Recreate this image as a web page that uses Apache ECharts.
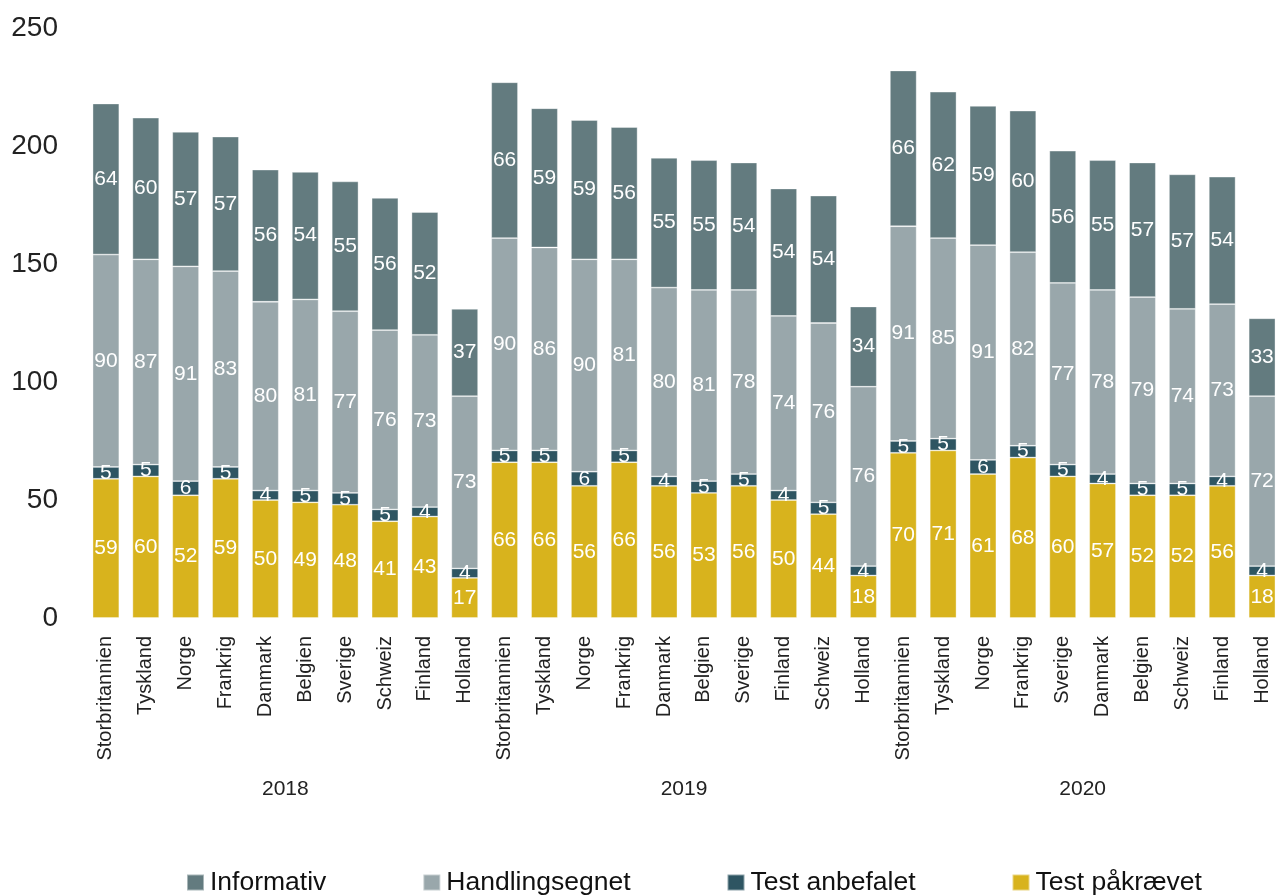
<!DOCTYPE html>
<html>
<head>
<meta charset="utf-8">
<script src="https://cdn.jsdelivr.net/npm/echarts@6/dist/echarts.min.js"></script>
<style>
  html, body { margin: 0; padding: 0; background: #fff; }
  #main { width: 1282px; height: 895px; }
</style>
</head>
<body>
<div id="main"></div>
<script>
var years = ['2018', '2019', '2020'];
var countries2018 = ['Storbritannien', 'Tyskland', 'Norge', 'Frankrig', 'Danmark', 'Belgien', 'Sverige', 'Schweiz', 'Finland', 'Holland'];
var countries2019 = ['Storbritannien', 'Tyskland', 'Norge', 'Frankrig', 'Danmark', 'Belgien', 'Sverige', 'Finland', 'Schweiz', 'Holland'];
var countries2020 = ['Storbritannien', 'Tyskland', 'Norge', 'Frankrig', 'Sverige', 'Danmark', 'Belgien', 'Schweiz', 'Finland', 'Holland'];

var testPaakraevet = [59, 60, 52, 59, 50, 49, 48, 41, 43, 17,
                      66, 66, 56, 66, 56, 53, 56, 50, 44, 18,
                      70, 71, 61, 68, 60, 57, 52, 52, 56, 18];
var testAnbefalet = [5, 5, 6, 5, 4, 5, 5, 5, 4, 4,
                     5, 5, 6, 5, 4, 5, 5, 4, 5, 4,
                     5, 5, 6, 5, 5, 4, 5, 5, 4, 4];
var handlingsegnet = [90, 87, 91, 83, 80, 81, 77, 76, 73, 73,
                      90, 86, 90, 81, 80, 81, 78, 74, 76, 76,
                      91, 85, 91, 82, 77, 78, 79, 74, 73, 72];
var informativ = [64, 60, 57, 57, 56, 54, 55, 56, 52, 37,
                  66, 59, 59, 56, 55, 55, 54, 54, 54, 34,
                  66, 62, 59, 60, 56, 55, 57, 57, 54, 33];

var categories = countries2018.concat(countries2019, countries2020);
var font = 'Liberation Sans, Arial, sans-serif';

function barSeries(name, data, color) {
  return {
    name: name,
    type: 'bar',
    stack: 'total',
    barCategoryGap: '33%',
    data: data,
    itemStyle: { color: color, borderColor: 'rgba(255,255,255,0.45)', borderWidth: 0.8 },
    label: {
      show: true,
      position: 'inside',
      color: '#fff',
      fontSize: 21,
      fontFamily: font
    },
    emphasis: { disabled: true }
  };
}

var chart = echarts.init(document.getElementById('main'));
var option = {
  backgroundColor: '#fff',
  animation: false,
  textStyle: { fontFamily: font },
  grid: { left: 86, width: 1203, top: 28, bottom: 277 },
  legend: {
    data: ['Informativ', 'Handlingsegnet', 'Test anbefalet', 'Test påkrævet'],
    left: 186,
    top: 869,
    padding: 0,
    icon: 'rect',
    itemWidth: 17,
    itemHeight: 16,
    itemGap: 96,
    textStyle: { fontSize: 26.5, color: '#111', fontFamily: font, padding: [0, 0, 0, 1] }
  },
  xAxis: [
    {
      type: 'category',
      data: categories,
      axisLine: { show: false },
      axisTick: { show: false },
      axisLabel: { rotate: 90, fontSize: 20, color: '#222', margin: 18, interval: 0 }
    },
    {
      type: 'category',
      data: years,
      position: 'bottom',
      offset: 160,
      axisLine: { show: false },
      axisTick: { show: false },
      axisLabel: { fontSize: 21, color: '#222', margin: 1 }
    }
  ],
  yAxis: {
    type: 'value',
    min: 0,
    max: 250,
    interval: 50,
    axisLine: { show: false },
    axisTick: { show: false },
    splitLine: { show: false },
    axisLabel: { fontSize: 28, color: '#222', margin: 28 }
  },
  series: [
    barSeries('Test påkrævet', testPaakraevet, '#D8B31D'),
    barSeries('Test anbefalet', testAnbefalet, '#2E5562'),
    barSeries('Handlingsegnet', handlingsegnet, '#99A7AB'),
    barSeries('Informativ', informativ, '#637B7F')
  ]
};
option && chart.setOption(option);
</script>
</body>
</html>
